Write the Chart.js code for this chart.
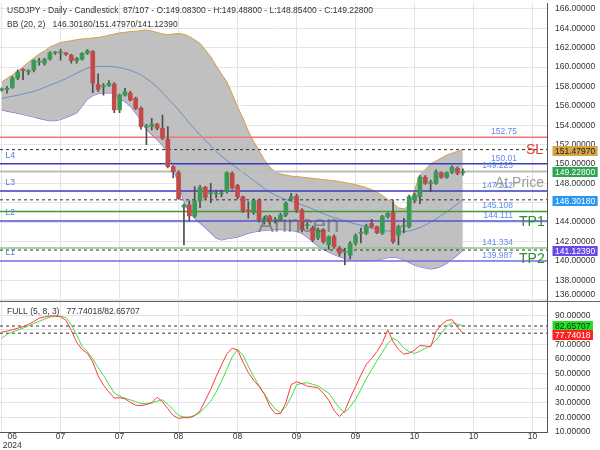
<!DOCTYPE html>
<html><head><meta charset="utf-8">
<script src="https://cdn.jsdelivr.net/npm/chart.js@4.4.1/dist/chart.umd.min.js"></script>
<style>html,body{margin:0;padding:0;background:#fff;}#wrap{width:600px;height:450px;}</style>
</head><body><div id="wrap"><canvas id="c" width="600" height="450"></canvas></div>
<script>
// ---------------- DATA ----------------
const opens  = [157.60,157.70,157.90,158.85,159.76,159.50,159.70,160.50,160.40,160.80,
161.45,161.45,161.47,161.24,160.65,160.80,161.40,161.58,158.20,157.95,
158.07,158.25,155.57,157.10,157.30,156.77,155.74,153.80,153.85,154.12,
153.68,152.55,149.72,149.12,145.55,145.77,144.64,146.19,147.58,146.95,
146.90,146.90,147.16,149.04,147.76,146.60,145.26,144.98,146.22,144.05,
144.57,144.20,144.23,144.74,146.36,146.70,145.26,143.65,143.40,142.37,
143.20,141.65,142.50,141.30,140.90,140.60,141.82,142.85,142.86,143.89,
143.54,142.86,144.57,144.98,142.68,143.55,143.54,146.30,146.60,148.63,
148.00,148.00,149.12,148.63,149.12,149.56,149.083];
const highs  = [157.85,158.00,159.00,159.70,159.85,159.70,160.75,160.90,160.90,161.60,
161.60,161.85,161.50,161.30,161.00,161.50,161.80,161.70,159.30,158.30,
158.60,158.40,157.20,157.80,157.50,156.90,155.90,154.10,154.70,154.20,
155.05,153.85,149.80,149.30,145.90,146.20,147.66,147.80,147.70,148.00,
147.30,147.30,149.20,149.20,147.90,146.70,146.10,146.40,146.40,144.60,
144.70,144.50,144.90,146.10,146.98,146.90,145.40,144.00,143.60,143.40,
143.30,142.60,142.70,141.50,141.30,142.00,142.80,143.40,143.80,144.30,
143.60,144.70,145.00,146.29,143.70,144.40,146.80,147.00,148.80,148.80,
148.35,149.40,149.20,149.20,149.80,149.70,149.488];
const lows   = [157.50,157.30,157.80,158.70,158.70,159.20,159.50,160.20,160.20,160.70,
161.30,160.70,161.20,160.40,160.40,160.70,161.30,157.35,157.45,157.10,
158.00,155.30,155.30,157.00,156.50,155.60,153.60,152.00,153.50,153.50,
152.50,149.60,148.56,146.35,141.65,144.10,144.50,145.50,146.40,146.00,
146.50,146.60,147.00,147.40,146.40,145.00,144.40,144.80,144.00,143.80,
143.80,143.90,144.10,144.60,146.20,145.00,143.00,143.30,142.00,142.20,
141.80,141.20,141.30,140.50,139.59,140.20,141.60,141.85,142.70,143.40,
142.80,142.70,144.40,141.80,141.65,142.90,143.40,145.98,145.90,147.90,
147.15,147.90,148.50,148.50,149.00,148.90,148.854];
const closes = [157.75,157.75,158.85,159.50,159.62,159.55,160.65,160.55,160.80,161.47,
161.50,161.50,161.30,160.65,160.90,161.40,161.68,158.32,157.70,158.00,
158.32,155.57,157.10,157.45,156.60,155.74,153.85,153.90,154.12,153.68,
152.65,149.72,149.20,146.41,145.77,144.64,146.19,147.58,146.55,147.00,
146.95,147.00,149.12,147.50,146.60,145.20,145.08,146.22,144.23,144.40,
144.05,144.25,144.74,146.00,146.63,145.26,143.20,143.75,142.16,143.20,
142.00,142.50,141.47,140.80,141.00,141.82,142.58,142.95,143.60,143.54,
142.92,144.57,144.92,141.99,143.54,143.65,146.63,146.80,148.65,148.00,
148.05,149.20,148.63,149.12,149.66,149.04,149.228];

const bbUpper = [158.45,158.81,159.19,159.54,160.03,160.48,160.93,161.34,161.66,162.06,
162.30,162.53,162.62,162.71,162.82,162.89,162.94,162.99,163.05,163.14,
163.28,163.40,163.52,163.58,163.65,163.69,163.75,163.81,163.72,163.56,
163.41,163.33,163.40,163.46,163.37,163.14,162.80,162.44,161.75,161.06,
160.15,159.28,158.48,157.22,155.89,154.74,153.40,152.32,151.39,150.43,
149.71,149.18,148.97,148.85,148.75,148.70,148.64,148.58,148.52,148.45,
148.39,148.33,148.27,148.19,148.08,147.98,147.87,147.73,147.56,147.35,
147.09,146.76,146.33,145.98,145.48,145.36,145.67,147.32,148.87,149.43,
150.02,150.31,150.62,150.93,151.11,151.30,151.48];
const bbMiddle = [156.77,156.88,156.98,157.08,157.22,157.35,157.49,157.67,157.90,158.12,
158.33,158.56,158.81,159.09,159.36,159.63,159.88,160.00,160.05,160.07,
160.06,160.02,159.94,159.82,159.66,159.43,159.18,158.81,158.40,157.94,
157.37,156.75,156.19,155.57,154.90,154.23,153.61,152.99,152.42,151.86,
151.29,150.82,150.36,149.95,149.54,149.12,148.71,148.30,147.89,147.47,
147.11,146.80,146.55,146.34,146.15,145.98,145.79,145.59,145.36,145.10,
144.87,144.66,144.47,144.30,144.12,143.96,143.81,143.67,143.53,143.40,
143.28,143.16,143.09,143.04,142.99,143.01,143.09,143.24,143.44,143.69,
144.00,144.33,144.69,145.08,145.46,145.88,146.30];
const bbLower = [155.57,155.45,155.34,155.25,155.11,154.97,154.84,154.71,154.58,154.46,
154.47,154.59,154.80,155.04,155.29,155.98,156.70,157.06,157.24,157.34,
157.35,157.30,156.72,156.44,155.98,155.28,154.57,153.61,153.04,152.53,
151.91,151.19,149.59,147.94,146.19,145.00,144.43,143.92,143.45,142.91,
142.37,142.16,142.29,142.37,142.49,142.66,142.87,142.99,143.09,143.14,
143.19,143.23,143.25,143.22,143.14,143.04,142.84,142.47,142.01,141.55,
141.19,140.93,140.67,140.43,140.26,140.12,140.08,140.07,140.08,140.10,
140.10,140.21,140.33,140.41,140.31,140.12,139.85,139.59,139.40,139.28,
139.18,139.26,139.46,139.76,140.21,140.62,141.12];

const stochK = [78.4,79.2,80.1,81.1,82.3,83.7,85.7,88.1,88.9,89.5,
89.6,89.0,86.5,79.6,71.5,66.5,64.0,58.0,48.5,42.0,
37.5,33.2,33.5,32.8,30.3,28.4,28.1,28.8,30.1,33.8,
30.7,26.0,21.3,19.4,19.8,19.8,21.2,24.4,31.8,39.3,
47.9,55.9,63.5,67.5,66.2,58.0,50.8,45.5,41.2,36.0,
27.5,22.6,22.6,30.0,42.5,44.4,43.2,41.4,40.9,40.4,
36.5,31.8,24.8,20.6,24.5,33.2,41.1,49.0,56.3,60.5,
65.2,71.2,80.0,72.0,66.6,63.4,64.1,66.2,69.3,69.0,
68.4,78.8,83.5,86.5,87.0,82.0,77.74];
const stochD = [74.3,76.8,78.6,79.9,81.2,82.7,84.3,85.9,87.3,88.8,
89.3,89.2,88.5,83.5,76.4,68.7,65.0,60.0,54.2,48.7,
42.6,36.7,34.6,33.1,32.0,30.8,29.5,29.4,29.9,31.1,
32.1,29.0,25.3,21.3,20.3,20.3,21.4,23.2,27.2,31.1,
37.3,44.7,53.0,61.4,66.4,62.6,55.2,48.0,41.9,36.0,
30.5,25.8,23.4,27.3,33.8,42.4,43.3,43.8,42.7,41.6,
39.2,36.6,31.4,26.4,23.3,27.2,32.4,39.2,46.5,52.7,
58.9,64.6,70.6,74.4,72.1,67.5,65.0,63.8,65.4,67.3,
69.2,73.0,77.6,82.4,84.9,83.9,82.66];

const xTickLabels = ['06','07','07','08','08','09','09','10','10','10'];
const yearLabel = '2024';
const levelValues = [152.75, 150.01, 149.223, 147.212, 145.108, 144.111, 141.334, 139.987];
const levelTexts  = ['152.75','150.01','149.223','147.212','145.108','144.111','141.334','139.987'];
const levelTags   = ['', 'L4', '', 'L3', '', 'L2', '', 'L1'];
const bbCurrent = [146.3018, 151.4797, 141.1239];      // middle / upper / lower
const stochCurrent = [77.74018, 82.65707];             // %K / %D
const totalBars = 107;
const symbolTitle = 'USDJPY - Daily - Candlestick';
const bbTitle = 'BB (20, 2)';
const stochTitle = 'FULL (5, 8, 3)';
const tagSL = 'SL', tagAtPrice = 'At Price', tagTP1 = 'TP1', tagTP2 = 'TP2', watermark = 'Arincen';

// ---------------- STYLE / LAYOUT ----------------
const XMIN = -0.3, XMAX = 101.7;
const FAM = '"Liberation Sans", Arial, sans-serif';
const F = s => s + 'px ' + FAM;
const GREEN = '#3a9a55', RED = '#c24b4a';
const levelStyles = [
  ['#f07777',1.5,[]], ['#3b3bbf',1.5,[]], ['#bcbcbc',2,[]], ['#3b3bbf',1.5,[]],
  ['#3f9a3f',1.5,[]], ['#5252d8',1.5,[]], ['#86c886',1.5,[]], ['#7070e6',1.5,[]]
];
const last = opens.length - 1;
const pts = arr => arr.map((v, i) => ({x: i, y: v}));
const flat = v => [{x: XMIN, y: v}, {x: XMAX, y: v}];

Chart.defaults.font.family = FAM;
Chart.defaults.font.size = 8.5;
Chart.defaults.color = '#333';

const datasets = [
  {type:'bar', label:'wick', data: opens.map((o,i)=>({x:i, y:[lows[i], highs[i]]})), yAxisID:'y',
   backgroundColor:'#4d4d4d', barThickness:1, grouped:false, order:1},
  {type:'bar', label:'body', data: opens.map((o,i)=>({x:i, y:[o, closes[i]]})), yAxisID:'y',
   backgroundColor: c => (c.raw && c.raw.y[1] >= c.raw.y[0]) ? GREEN : RED,
   barThickness:4, minBarLength:1, grouped:false, order:0},
  {type:'line', label:'bbU', data: pts(bbUpper), yAxisID:'y', borderColor:'#d6a046', borderWidth:1,
   pointRadius:0, fill:'+2', backgroundColor:'rgb(192,192,192)', order:10},
  {type:'line', label:'bbM', data: pts(bbMiddle), yAxisID:'y', borderColor:'#6c8ec4', borderWidth:1,
   pointRadius:0, fill:false, order:9},
  {type:'line', label:'bbL', data: pts(bbLower), yAxisID:'y', borderColor:'#7a6ae8', borderWidth:1.2,
   pointRadius:0, fill:false, order:10},
];
levelValues.forEach((v,k)=>{
  datasets.push({type:'line', data: flat(v), yAxisID:'y', borderColor: levelStyles[k][0],
    borderWidth: levelStyles[k][1], borderDash: levelStyles[k][2], pointRadius:0, fill:false, order:5});
});
bbCurrent.forEach(v=>{
  datasets.push({type:'line', data: flat(v), yAxisID:'y', borderColor:'#333', borderWidth:1,
    borderDash:[3,3], pointRadius:0, fill:false, order:4});
});
stochCurrent.forEach(v=>{
  datasets.push({type:'line', data: flat(v), yAxisID:'y2', borderColor:'#333', borderWidth:1,
    borderDash:[3,3], pointRadius:0, fill:false, order:4});
});
datasets.push({type:'line', data: pts(stochD), yAxisID:'y2', borderColor:'#44dd44', borderWidth:1, pointRadius:0, fill:false, order:3});
datasets.push({type:'line', data: pts(stochK), yAxisID:'y2', borderColor:'#ff3b3b', borderWidth:1, pointRadius:0, fill:false, order:2});

function tag(ctx, text, py, bg, fg){
  ctx.font = F(8.5);
  const w = ctx.measureText(text).width;
  ctx.fillStyle = bg; ctx.fillRect(552.5, Math.round(py) - 5, w + 5, 10);
  ctx.fillStyle = fg; ctx.textAlign = 'left'; ctx.textBaseline = 'middle';
  ctx.fillText(text, 555, Math.round(py) + 0.5);
}

const overlay = {
  id:'overlay',
  beforeDraw(chart){ const c = chart.ctx; c.save(); c.fillStyle='#fff'; c.fillRect(0,0,chart.width,chart.height); c.restore(); },
  afterDatasetsDraw(chart){
    const ctx = chart.ctx, y = chart.scales.y;
    ctx.save();
    ctx.textBaseline = 'middle';
    ctx.font = F(8.5);
    levelValues.forEach((v,k)=>{
      const py = y.getPixelForValue(v);
      ctx.fillStyle = '#6289ea'; ctx.textAlign = 'right';
      ctx.fillText(levelTexts[k], levelTexts[k].length > 6 ? 513 : 517, py - 5.5);
      if (levelTags[k]) { ctx.fillStyle = '#5a76d6'; ctx.textAlign = 'left'; ctx.fillText(levelTags[k], 5.5, py - 8); }
    });
    ctx.font = F(14); ctx.textAlign = 'left';
    ctx.fillStyle = '#e53935'; ctx.fillText(tagSL, 526, y.getPixelForValue(bbCurrent[1]) + 0.5);
    ctx.fillStyle = '#9b9b9b'; ctx.fillText(tagAtPrice, 495, y.getPixelForValue(closes[last]) + 11.5);
    ctx.fillStyle = '#2e8b2e'; ctx.fillText(tagTP1, 519, y.getPixelForValue(levelValues[5]) + 1);
    ctx.fillText(tagTP2, 519, y.getPixelForValue(levelValues[7]) - 2);
    ctx.font = F(24); ctx.fillStyle = 'rgba(85,85,85,0.55)';
    ctx.fillText(watermark, 258, 225);
    ctx.restore();
  },
  afterDraw(chart){
    const ctx = chart.ctx, y = chart.scales.y, y2 = chart.scales.y2, xs = chart.scales.x;
    ctx.save();
    ctx.strokeStyle = '#666'; ctx.lineWidth = 1;
    ctx.beginPath(); ctx.moveTo(0, Math.round(y2.top) + 0.5); ctx.lineTo(600, Math.round(y2.top) + 0.5); ctx.stroke();
    ctx.font = F(8.5); ctx.fillStyle = '#333'; ctx.textAlign = 'left'; ctx.textBaseline = 'middle';
    ctx.fillText(symbolTitle, 7, 10.5);
    ctx.fillText(opens.length + '/' + totalBars + ' - O:' + opens[last].toFixed(5) + ' - H:' + highs[last].toFixed(5) +
      ' - L:' + lows[last].toFixed(5) + ' - C:' + closes[last].toFixed(5), 123, 10.5);
    ctx.fillText(bbTitle, 7, 25);
    ctx.fillText(bbCurrent.map(v=>v.toFixed(5)).join('/'), 52.5, 25);
    ctx.fillText(stochTitle, 7, 311.5);
    ctx.fillText(stochCurrent.map(v=>v.toFixed(5)).join('/'), 66.5, 311.5);
    ctx.textAlign = 'center';
    let firstX = 0;
    xs.ticks.forEach((t,k)=>{
      let px = xs.getPixelForValue(t.value);
      if (k === 0) { px = Math.max(px, 12.2); firstX = px; }
      if (xTickLabels[k]) ctx.fillText(xTickLabels[k], px, 437);
    });
    ctx.fillText(yearLabel, firstX, 445.5);
    tag(ctx, bbCurrent[1].toFixed(5), y.getPixelForValue(bbCurrent[1]) + 1.5, '#d8a445', '#222');
    tag(ctx, closes[last].toFixed(5), y.getPixelForValue(closes[last]) + 1, '#2ea552', '#fff');
    tag(ctx, bbCurrent[0].toFixed(5), y.getPixelForValue(bbCurrent[0]) + 1, '#2a98f0', '#fff');
    tag(ctx, bbCurrent[2].toFixed(5), y.getPixelForValue(bbCurrent[2]) + 0.5, '#6a4ae6', '#fff');
    tag(ctx, stochCurrent[1].toFixed(5), y2.getPixelForValue(stochCurrent[1]), '#22e022', '#222');
    tag(ctx, stochCurrent[0].toFixed(5), y2.getPixelForValue(stochCurrent[0]) + 2, '#ff2020', '#fff');
    ctx.restore();
  }
};

new Chart(document.getElementById('c'), {
  type:'bar',
  data:{ datasets },
  options:{
    responsive:false, animation:false, devicePixelRatio:1,
    layout:{ padding:{ top:3, left:0, right:0, bottom:0 } },
    plugins:{ legend:{display:false}, tooltip:{enabled:false} },
    scales:{
      x:{ type:'linear', min:XMIN, max:XMAX, offset:false,
          grid:{ color:'#e4e4e4', drawTicks:false, offset:false },
          border:{ color:'#555' },
          ticks:{ display:false, stepSize:11, includeBounds:false, autoSkip:false },
          afterFit(s){ s.height = 18; s.paddingLeft = 0; s.paddingRight = 0; } },
      y:{ type:'linear', position:'right', stack:'main', stackWeight:297.7, min:135.9, max:166.6, offset:false,
          grid:{ color:'#e4e4e4', drawTicks:false },
          border:{ color:'#555' },
          ticks:{ stepSize:2, includeBounds:false, autoSkip:false, padding:8, color:'#333',
                  callback: v => v === 136 ? [v.toFixed(5), ''] : v.toFixed(5) },
          afterFit(s){ s.width = 53; s.paddingTop = 0; s.paddingBottom = 0; } },
      y2:{ type:'linear', position:'right', stack:'main', stackWeight:131.3, min:10, max:100, offset:false,
          grid:{ color:'#e4e4e4', drawTicks:false },
          border:{ color:'#555' },
          ticks:{ stepSize:10, includeBounds:false, autoSkip:false, padding:8, color:'#333',
                  callback: v => v === 100 ? '' : v.toFixed(5) },
          afterFit(s){ s.width = 53; s.paddingTop = 0; s.paddingBottom = 0; } }
    }
  },
  plugins:[overlay]
});
</script></body></html>
